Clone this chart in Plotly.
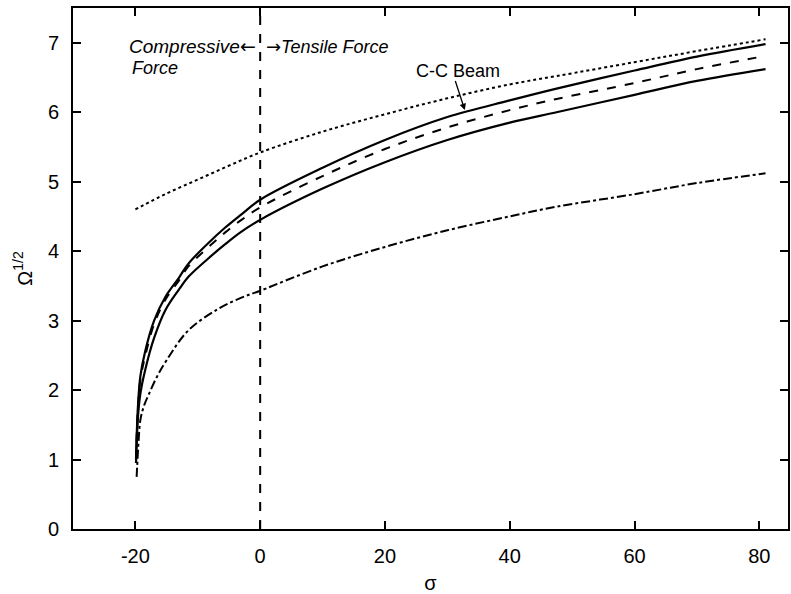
import plotly.graph_objects as go

# Data
sig_top = [-20, -15, -10, -5, 0, 10, 20, 30, 40, 47.5, 60, 70, 81]
dotted = [4.6, 4.83, 5.03, 5.23, 5.42, 5.72, 5.97, 6.2, 6.4, 6.52, 6.72, 6.88, 7.05]

sig = [-19.9, -19.6, -19.2, -18.4, -17, -15.2, -13, -11.5, -8.5, -5.6, -3, 0, 10, 20, 30, 40, 47.5, 60, 70, 81]
upper_solid = [1.0, 1.75, 2.2, 2.57, 3.0, 3.34, 3.62, 3.82, 4.1, 4.34, 4.53, 4.74, 5.2, 5.6, 5.93, 6.17, 6.34, 6.6, 6.8, 6.98]
dashed = [1.0, 1.72, 2.15, 2.5, 2.95, 3.3, 3.58, 3.78, 4.04, 4.27, 4.45, 4.63, 5.08, 5.47, 5.78, 6.03, 6.19, 6.42, 6.62, 6.81]
lower_solid = [0.95, 1.6, 1.95, 2.3, 2.75, 3.15, 3.45, 3.63, 3.88, 4.1, 4.28, 4.45, 4.9, 5.28, 5.6, 5.85, 6.0, 6.25, 6.45, 6.62]

sig_dd = [-19.8, -19.5, -19.2, -18.6, -17.8, -16.5, -15, -11.5, -6.7, -3, 0, 10, 20, 30, 40, 47.5, 60, 70, 81]
dashdot = [0.75, 1.25, 1.57, 1.78, 1.95, 2.2, 2.43, 2.86, 3.17, 3.33, 3.43, 3.78, 4.06, 4.3, 4.5, 4.64, 4.82, 4.98, 5.12]

xticks = [-20, 0, 20, 40, 60, 80]
yticks = [0, 1, 2, 3, 4, 5, 6, 7]

fig = go.Figure()
fig.add_trace(go.Scatter(x=sig_top, y=dotted, mode="lines",
                         line=dict(color="black", width=2, dash="dot", shape="spline")))
fig.add_trace(go.Scatter(x=sig, y=upper_solid, mode="lines",
                         line=dict(color="black", width=2.2, shape="spline")))
fig.add_trace(go.Scatter(x=sig, y=dashed, mode="lines",
                         line=dict(color="black", width=2, dash="dash", shape="spline")))
fig.add_trace(go.Scatter(x=sig, y=lower_solid, mode="lines",
                         line=dict(color="black", width=2.2, shape="spline")))
fig.add_trace(go.Scatter(x=sig_dd, y=dashdot, mode="lines",
                         line=dict(color="black", width=2, dash="dashdot", shape="spline")))

# vertical dividing line at sigma = 0
fig.add_shape(type="line", x0=0, x1=0, y0=0, y1=7.5, xref="x", yref="y",
              line=dict(color="black", width=2, dash="dash"))

FAM = "Liberation Sans, Arial, sans-serif"
ann = dict(family=FAM, size=18, color="black")
tickf = dict(family=FAM, size=20, color="black")
ARW = '<span style="font-family:DejaVu Sans">{}</span>'

fig.add_annotation(x=-0.3, y=6.95, text="<i>Compressive</i>" + ARW.format("←"),
                   showarrow=False, xanchor="right", yanchor="middle",
                   font=dict(family=FAM, size=19, color="black"))
fig.add_annotation(x=-20.8, y=6.64, text="<i>Force</i>", showarrow=False,
                   xanchor="left", yanchor="middle", font=ann)
fig.add_annotation(x=0.6, y=6.95, text=ARW.format("→") + "<i>Tensile Force</i>",
                   showarrow=False, xanchor="left", yanchor="middle", font=ann)
fig.add_annotation(x=32.8, y=6.03, ax=31.2, ay=6.47, axref="x", ayref="y",
                   text="", showarrow=True, arrowhead=2, arrowsize=1, arrowwidth=1.3,
                   arrowcolor="black")
fig.add_annotation(x=31.7, y=6.59, text="C-C Beam", showarrow=False,
                   xanchor="center", yanchor="middle", font=ann)

axis_common = dict(showgrid=False, zeroline=False, showline=True, linecolor="black",
                   linewidth=2, mirror="allticks", ticks="inside", ticklen=8,
                   tickwidth=2, tickcolor="black", tickfont=tickf)

fig.update_xaxes(range=[-30, 84.6], tickvals=xticks, ticktext=[str(v) for v in xticks],
                 ticklabelstandoff=8,
                 title=dict(text="σ", font=dict(family=FAM, size=20, color="black"), standoff=10),
                 **axis_common)
fig.update_yaxes(range=[0, 7.5], tickvals=yticks, ticktext=[str(v) for v in yticks],
                 ticklabelstandoff=8,
                 title=dict(text="Ω<sup>1/2</sup>", font=dict(family=FAM, size=20, color="black"),
                            standoff=10),
                 **axis_common)

fig.update_layout(width=791, height=594, showlegend=False,
                  plot_bgcolor="white", paper_bgcolor="white",
                  margin=dict(l=73, r=1, t=8, b=65))

fig.write_html("out.html")
